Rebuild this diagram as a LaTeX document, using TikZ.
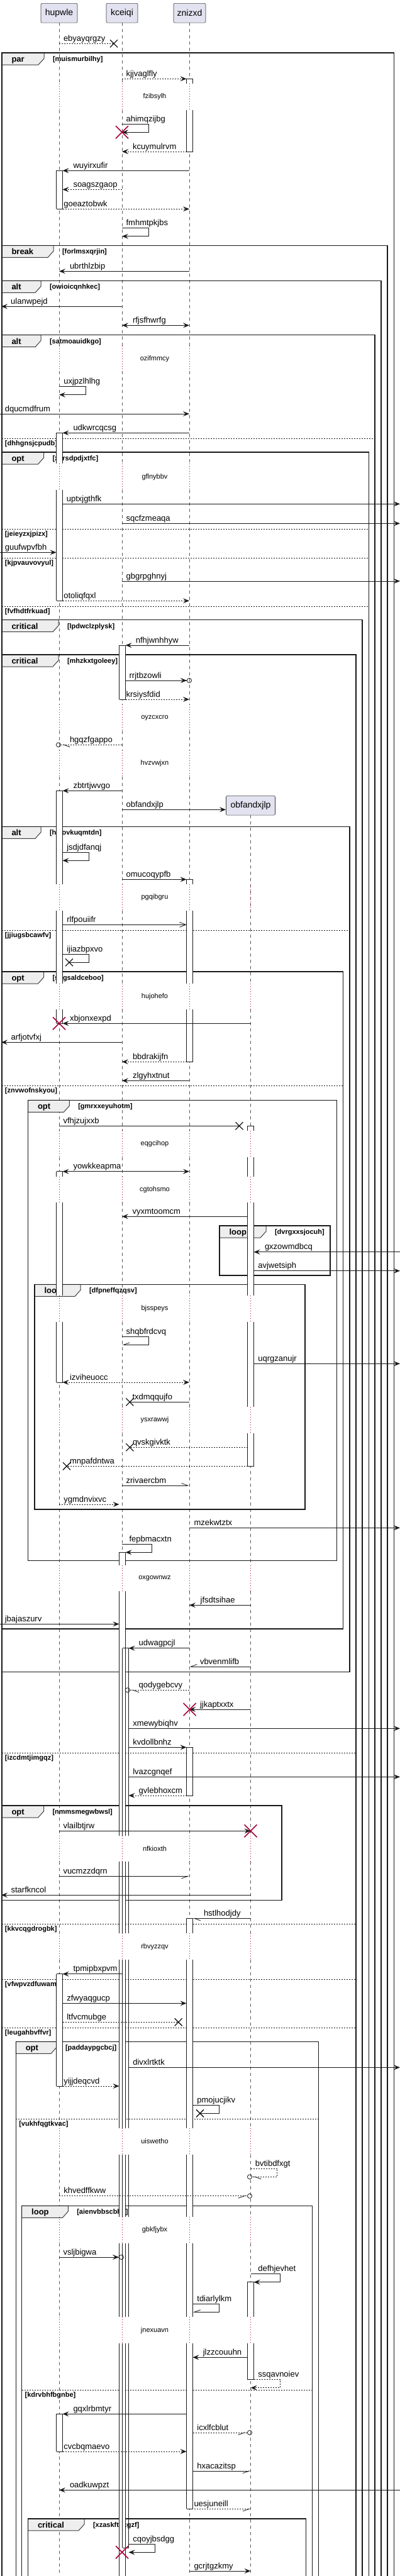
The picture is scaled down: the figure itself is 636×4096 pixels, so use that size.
\documentclass[tikz,border=0pt]{standalone}
\usepackage{fontspec}
\setmainfont{Liberation Sans}
\usetikzlibrary{arrows.meta,shapes.misc}
\definecolor{headfill}{HTML}{E2E2F0}
\definecolor{tabfill}{HTML}{EEEEEE}
\definecolor{killred}{HTML}{A80036}

\newcommand{\seqmsg}[6][]{%
  \coordinate (#6-a) at (#2,#4);
  \coordinate (#6-b) at (#3,#4);
  \draw[msgline,#1] (#6-a) -- (#6-b);
  \node[msglabel] (#6) at (#5,#4-4) {#6};}
\newcommand{\seqself}[7][]{%
  \coordinate (#7-a) at (#2,#5);
  \coordinate (#7-b) at (#4,#5+13);
  \draw[msgline,#1] (#7-a) -- (#3,#5) -- (#3,#5+13) -- (#7-b);
  \node[msglabel] (#7) at (#6,#5-4) {#7};}
\newcommand{\seqact}[6][fill=white]{%
  \path[#1] (#2-5,#3) rectangle (#2+5,#4);
  \draw[actline] (#2-5,#3) -- (#2-5,#4) (#2+5,#3) -- (#2+5,#4);
  \ifnum#5=1 \draw[actline] (#2-5,#3) -- (#2+5,#3);\fi
  \ifnum#6=1 \draw[actline] (#2-5,#4) -- (#2+5,#4);\fi}
\newcommand{\seqdelay}[3]{%
  \draw[delayline] (94,#1) -- (94,#2) (194,#1) -- (194,#2) (301,#1) -- (301,#2);
  \ifdim #1pt>1296pt \draw[delayline] (398.5,#1) -- (398.5,#2);\fi
  \node[delaylabel] (#3) at (246,{(#1+#2)/2}) {#3};}
\newcommand{\seqframe}[7]{%
  \draw[tabline] (#1,#2) -- (#5,#2) -- (#5,#2+9) -- (#5-9,#2+19) -- (#1,#2+19) -- cycle;
  \draw[frameline] (#1,#2) rectangle (#3,#4);
  \node[framelabel] (#7-op) at (#1+15.5,#2+14.5) {#6};
  \node[guardlabel] (#7) at (#5+14,#2+13.5) {[#7]};}
\newcommand{\seqelse}[4]{%
  \draw[elseline] (#1,#3) -- (#2,#3);
  \node[guardlabel] (#4) at (#1+5,#3+11) {[#4]};}

\begin{document}
\begin{tikzpicture}[x=1pt,y=-1pt,
  every node/.style={inner sep=0pt,outer sep=0pt},
  actor/.style={draw=black!75,fill=headfill,rounded corners=2pt,line width=0.6pt,minimum height=30.7pt,font=\fontsize{14}{16}\selectfont},
  lifeline/.style={draw=black!65,line width=0.6pt,dash pattern=on 5pt off 5pt},
  delayline/.style={draw=killred,line width=0.8pt,dash pattern=on 0.8pt off 3.2pt},
  delaylabel/.style={font=\fontsize{11}{13}\selectfont},
  actline/.style={draw=black!90,line width=1pt},
  frameline/.style={draw=black!90,line width=1.5pt},
  tabline/.style={draw=black!75,fill=tabfill,line width=1pt},
  elseline/.style={draw=black!90,line width=0.8pt,dash pattern=on 2pt off 2pt},
  framelabel/.style={anchor=base west,font=\bfseries\fontsize{13}{15}\selectfont},
  guardlabel/.style={anchor=base west,font=\bfseries\fontsize{11}{13}\selectfont},
  msgline/.style={draw=black!90,line width=0.8pt,-{Stealth[length=10pt,width=8pt,inset=4pt]}},
  msglabel/.style={anchor=base west,font=\fontsize{13}{15}\selectfont},
  dashmsg/.style={dash pattern=on 2pt off 2pt},
  twoway/.style={{Stealth[length=10pt,width=8pt,inset=4pt]}-{Stealth[length=10pt,width=8pt,inset=4pt]}},
  openarr/.style={-{Straight Barb[length=10pt,width=8pt]}},
  barbl/.style={-{Straight Barb[left,length=10pt,width=7pt]}},
  barbr/.style={-{Straight Barb[right,length=10pt,width=7pt]}},
  circarr/.style={-{Stealth[length=10pt,width=8pt,inset=4pt]Circle[open,length=8pt,width=8pt]}},
  circbarbl/.style={-{Straight Barb[left,length=10pt,width=7pt,sep=2pt]Circle[open,length=8pt,width=8pt]}},
  circbarbr/.style={-{Straight Barb[right,length=10pt,width=7pt,sep=2pt]Circle[open,length=8pt,width=8pt]}},
  lostx/.style={cross out,draw=black!90,line width=1.3pt,minimum size=12pt},
  killx/.style={cross out,draw=killred,line width=1.6pt,minimum size=20pt}]

\useasboundingbox[fill=white] (0,0) rectangle (636,4096);

\node[actor,minimum width=58pt] (hup) at (94,20.7) {hupwle};
\node[actor,minimum width=50pt] (kce) at (194,20.7) {kceiqi};
\node[actor,minimum width=51pt] (zni) at (301.5,20.7) {znizxd};
\node[actor,minimum width=78pt] (obf) at (398.5,1280.7) {obfandxjlp};

\foreach \a/\b in {36/133,175/550.3,590.3/737.3,779/1120.3,1162.3/1193,1235/1406,1448/1564,1605.3/1798,1840/1870.7,1911.7/2060,2102/2237,2278.7/2489,2530/2919.3,2960.3/3074.3,3116.3/3384,3426/3525.3,3566.7/3684.3,3726/4096}
  \draw[lifeline] (94,\a) -- (94,\b) (194,\a) -- (194,\b) (301,\a) -- (301,\b);
\foreach \a/\b in {1296/1564,1605.3/1798,1840/1870.7,1911.7/2060,2102/2237,2278.7/2489,2530/2919.3,2960.3/3074.3,3116.3/3384,3426/3525.3,3566.7/3684.3,3726/4096}
  \draw[lifeline] (398.5,\a) -- (398.5,\b);

\seqframe{3}{84}{626.5}{4120}{70}{par}{muismurbilhy}
\seqframe{3}{390.3}{616}{4120}{85}{break}{forlmsxqrjin}
\seqframe{3}{446.3}{606}{4120}{65}{alt}{owioicqnhkec}
\seqframe{3}{532.7}{596}{4120}{65}{alt}{satmoauidkgo}
\seqelse{3}{596}{697.3}{dhhgnsjcpudb}
\seqframe{3}{719}{586.4}{4120}{69.5}{opt}{xarsdpdjxtfc}
\seqelse{3}{586.4}{841.3}{jeieyzxjpizx}
\seqelse{3}{586.4}{887}{kjpvauvovyul}
\seqelse{3}{586.4}{964}{fvfhdtfrkuad}
\seqframe{3}{985.7}{576}{4120}{93}{critical}{lpdwclzplysk}
\seqframe{3}{1041}{566}{4120}{93}{critical}{mhzkxtgoleey}
\seqelse{3}{566}{2787.7}{izcdmtjimgqz}
\seqelse{3}{566}{3059.3}{kkvcqgdrogbk}
\seqelse{3}{566}{3147.3}{vfwpvzdfuwam}
\seqelse{3}{566}{3224}{leugahbvffvr}
\seqframe{3}{1314.3}{556}{2658.3}{65}{alt}{htzovkuqmtdn}
\seqelse{3}{556}{1479}{jjiugsbcawfv}
\seqframe{3}{1545}{545.6}{2590}{69.5}{opt}{sbgsaldceboo}
\seqelse{3}{545.6}{1726.7}{znvwofnskyou}
\seqframe{44.5}{1749.3}{535.4}{2481.3}{110.3}{opt}{gmrxxeyuhotm}
\seqframe{349}{1949}{525}{2028}{423}{loop}{dvrgxxsjocuh}
\seqframe{55}{2042.3}{485}{2400}{128}{loop}{dfpneffqzqsv}
\seqframe{3}{2871}{448}{3021.7}{69.5}{opt}{nmmsmegwbwsl}
\seqframe{25.3}{3246.3}{506.7}{4120}{90}{opt}{paddaypgcbcj}
\seqelse{25.3}{506.7}{3369.3}{vukhfqgtkvac}
\seqframe{34.7}{3507.3}{496.5}{4120}{108.3}{loop}{aienvbbscbhb}
\seqelse{34.7}{496.5}{3800.3}{kdrvbhfbgnbe}
\seqframe{44.5}{4004.7}{486.3}{4120}{134}{critical}{xzaskfthcgzf}

\seqdelay{133}{175}{fzibsylh}
\seqdelay{550.3}{590.3}{ozifmmcy}
\seqdelay{737.3}{779}{gflnybbv}
\seqdelay{1120.3}{1162.3}{oyzcxcro}
\seqdelay{1193}{1235}{hvzvwjxn}
\seqdelay{1406}{1448}{pgqibgru}
\seqdelay{1564}{1605.3}{hujohefo}
\seqdelay{1798}{1840}{eqgcihop}
\seqdelay{1870.7}{1911.7}{cgtohsmo}
\seqdelay{2060}{2102}{bjsspeys}
\seqdelay{2237}{2278.7}{ysxrawwj}
\seqdelay{2489}{2530}{oxgownwz}
\seqdelay{2919.3}{2960.3}{nfkioxth}
\seqdelay{3074.3}{3116.3}{rbvyzzqv}
\seqdelay{3384}{3426}{uiswetho}
\seqdelay{3525.3}{3566.7}{gbkfjybx}
\seqdelay{3684.3}{3726}{jnexuavn}

\seqact{94.5}{271.3}{332.3}{1}{1}
\seqact{94.5}{688.3}{737.3}{1}{0}
\seqact{94.5}{779}{955.3}{0}{1}
\seqact{94.5}{1257.3}{1406}{1}{0}
\seqact{94.5}{1448}{1564}{0}{0}
\seqact{94.5}{1605.3}{1627.3}{0}{1}
\seqact{94.5}{1862.7}{1870.7}{1}{0}
\seqact{94.5}{1911.7}{2060}{0}{0}
\seqact{94.5}{2102}{2198}{0}{1}
\seqact{94.5}{3138.7}{3317}{1}{1}
\seqact{94.5}{3838.3}{3898}{1}{1}
\seqact{194.5}{1026}{1112}{1}{1}
\seqact{194.5}{2468.3}{2489}{1}{0}
\seqact{194.5}{2530}{2919.3}{0}{0}
\seqact{194.5}{2960.3}{3074.3}{0}{0}
\seqact{194.5}{3116.3}{3384}{0}{0}
\seqact{194.5}{3426}{3525.3}{0}{0}
\seqact{194.5}{3566.7}{3684.3}{0}{0}
\seqact{194.5}{3726}{4120}{0}{0}
\seqact[fill=none]{199.5}{2620.7}{2919.3}{1}{0}
\seqact[fill=none]{199.5}{2960.3}{3074.3}{0}{0}
\seqact[fill=none]{199.5}{3116.3}{3384}{0}{0}
\seqact[fill=none]{199.5}{3426}{3525.3}{0}{0}
\seqact[fill=none]{199.5}{3566.7}{3684.3}{0}{0}
\seqact[fill=none]{199.5}{3726}{4051.3}{0}{1}
\seqact{301.5}{125.3}{133}{1}{0}
\seqact{301.5}{175}{241}{0}{1}
\seqact{301.5}{1398.3}{1406}{1}{0}
\seqact{301.5}{1448}{1564}{0}{0}
\seqact{301.5}{1605.3}{1688.3}{0}{1}
\seqact{301.5}{2778.3}{2855}{1}{1}
\seqact{301.5}{3050.3}{3074.3}{1}{0}
\seqact{301.5}{3116.3}{3384}{0}{0}
\seqact{301.5}{3426}{3525.3}{0}{0}
\seqact{301.5}{3566.7}{3684.3}{0}{0}
\seqact{301.5}{3726}{3989.3}{0}{1}
\seqact{398.5}{1790.3}{1798}{1}{0}
\seqact{398.5}{1840}{1870.7}{0}{0}
\seqact{398.5}{1911.7}{2060}{0}{0}
\seqact{398.5}{2102}{2237}{0}{0}
\seqact{398.5}{2278.7}{2331.3}{0}{1}
\seqact{398.5}{3628.3}{3684.3}{1}{0}
\seqact{398.5}{3726}{3783.7}{0}{1}

\seqmsg[dashmsg,-]{94}{181}{69.3}{101}{ebyayqrgzy}
\node[lostx] (x1) at (181,69.3) {};
\seqmsg[dashmsg]{194}{296.5}{125.3}{200.6}{kjjvaglfly}
\seqself{194}{236}{194}{197.3}{200.6}{ahimqzijbg}
\node[killx] (k1) at (194,210.3) {};
\seqmsg[dashmsg]{296.5}{194}{241}{211}{kcuymulrvm}
\seqmsg{301}{99.5}{271.3}{116.5}{wuyirxufir}
\seqmsg[dashmsg]{194}{99.5}{301.3}{116.5}{soagszgaop}
\seqmsg[dashmsg]{99.5}{301}{332.3}{101.3}{goeaztobwk}
\seqself{194}{236}{194}{362.7}{200.6}{fmhmtpkjbs}
\seqmsg{301}{94}{431.3}{111}{ubrthlzbip}
\seqmsg{194}{2}{487.3}{17.2}{ulanwpejd}
\seqmsg[twoway]{194}{301}{517.3}{211}{rfjsfhwrfg}
\seqself{94}{136}{94}{614.7}{101.3}{uxjpzlhlhg}
\seqmsg{0}{301}{658}{7.8}{dqucmdfrum}
\seqmsg{301}{99.5}{688.3}{116.5}{udkwrcqcsg}
\seqmsg{99.5}{636}{801.3}{105.8}{uptxjgthfk}
\seqmsg{194}{636}{832.3}{200.6}{sqcfzmeaqa}
\seqmsg{0}{89.5}{878.3}{7.8}{guufwpvfbh}
\seqmsg{194}{636}{924}{200.6}{gbgrpghnyj}
\seqmsg[dashmsg]{99.5}{301}{955.3}{101.3}{otoliqfqxl}
\seqmsg{301}{199.5}{1026}{215.8}{nfhjwnhhyw}
\seqmsg[circarr]{199.5}{305}{1082}{205.6}{rrjtbzowli}
\seqmsg[dashmsg]{199.5}{301}{1112}{200.6}{krsiysfdid}
\seqmsg[dashmsg,circbarbl]{194}{89}{1184.3}{111}{hgqzfgappo}
\seqmsg{194}{99.5}{1257.3}{116.5}{zbtrtjwvgo}
\seqmsg{194}{359}{1287.3}{200.6}{obfandxjlp}
\seqself{99.5}{141}{99.5}{1355.3}{106.3}{jsdjdfanqj}
\seqmsg{194}{296.5}{1398.3}{200.6}{omucoqypfb}
\seqmsg[openarr]{99.5}{296.5}{1470.3}{106.3}{rlfpouiifr}
\seqself[-]{99.5}{141}{110}{1517.3}{106.3}{ijiazbpxvo}
\node[lostx] (x2) at (110,1530.3) {};
\seqmsg{398.5}{99.5}{1627.3}{111}{xbjonxexpd}
\node[killx] (k2) at (94,1627.3) {};
\seqmsg{194}{2}{1657.3}{17.6}{arfjotvfxj}
\seqmsg[dashmsg]{296.5}{194}{1688.3}{211}{bbdrakijfn}
\seqmsg{301}{194}{1718.3}{211}{zlgyhxtnut}
\seqmsg[-]{94}{380.5}{1790.3}{100.5}{vfhjzujxxb}
\node[lostx] (x3) at (380.5,1790.3) {};
\seqmsg[twoway]{99.5}{301}{1862.7}{116.5}{yowkkeapma}
\seqmsg{393.5}{194}{1934.3}{210.5}{vyxmtoomcm}
\seqmsg{636}{403.5}{1990.7}{421}{gxzowmdbcq}
\seqmsg{403.5}{636}{2020.7}{410.3}{avjwetsiph}
\seqself[barbr]{194}{236}{194}{2125.3}{200.6}{shqbfrdcvq}
\seqmsg{403.5}{636}{2168.3}{410.3}{uqrgzanujr}
\seqmsg[dashmsg,twoway]{99.5}{301}{2198}{111}{izviheuocc}
\seqmsg[-]{301}{206.4}{2229.3}{210.5}{txdmqqujfo}
\node[lostx] (x4) at (206.4,2229.3) {};
\seqmsg[dashmsg,-]{393.5}{206.4}{2301.3}{211}{qvskgivktk}
\node[lostx] (x5) at (206.4,2301.3) {};
\seqmsg[dashmsg,-]{393.5}{106}{2331.3}{111}{mnpafdntwa}
\node[lostx] (x6) at (106,2331.3) {};
\seqmsg[barbl]{194}{301}{2362}{200.6}{zrivaercbm}
\seqmsg[dashmsg]{94}{189.5}{2392}{101.3}{ygmdnvixvc}
\seqmsg{301}{636}{2429.3}{308.5}{mzekwtztx}
\seqself{194}{241}{199.5}{2455.3}{205.6}{fepbmacxtn}
\seqmsg{398.5}{301}{2552.3}{318.7}{jfsdtsihae}
\seqmsg{0}{189.5}{2582.3}{7.8}{jbajaszurv}
\seqmsg{301}{204.5}{2620.7}{220.7}{udwagpcjl}
\seqmsg[barbr]{398.5}{301}{2650}{318}{vbvenmlifb}
\seqmsg[dashmsg,circbarbl]{301}{198.7}{2687.3}{220.7}{qodygebcvy}
\seqmsg{398.5}{301}{2718}{318}{jjkaptxxtx}
\node[killx] (k3) at (301.6,2718) {};
\seqmsg{204.5}{636}{2748.3}{211.3}{xmewybiqhv}
\seqmsg{204.5}{296.5}{2778.3}{211.3}{kvdollbnhz}
\seqmsg{204.5}{636}{2825.3}{211.3}{lvazcgnqef}
\seqmsg[dashmsg]{296.5}{204.5}{2855}{220.7}{gvlebhoxcm}
\seqmsg{94}{398.5}{2911.3}{100.5}{vlailbtjrw}
\node[killx] (k4) at (398.5,2911.3) {};
\seqmsg[barbr]{94}{301}{2983.3}{100.5}{vucmzzdqrn}
\seqmsg{398.5}{2}{3013.3}{17.6}{starfkncol}
\seqmsg[barbl]{398.5}{306.5}{3050.3}{324}{hstlhodjdy}
\seqmsg{194}{99.5}{3138.7}{116.5}{tpmipbxpvm}
\seqmsg{99.5}{296.5}{3185.3}{106.3}{zfwyaqgucp}
\seqmsg[dashmsg,-]{99.5}{283.7}{3215.3}{106.3}{ltfvcmubge}
\node[lostx] (x7) at (283.7,3215.3) {};
\seqmsg{204.5}{636}{3287.3}{211.3}{divxlrtktk}
\seqmsg[dashmsg]{99.5}{189.5}{3317}{101.3}{yijjdeqcvd}
\seqself[-]{306.5}{348.6}{318}{3347.3}{313.4}{pmojucjikv}
\node[lostx] (x8) at (318,3360.3) {};
\seqself[dashmsg,circbarbl]{398.5}{440.5}{393}{3448.3}{405.8}{bvtibdfxgt}
\seqmsg[dashmsg,circbarbr]{94}{401}{3491.7}{101.3}{khvedffkww}
\seqmsg[circarr]{94}{197}{3589}{100.5}{vsljbigwa}
\seqself{398.5}{445.4}{403.5}{3615.7}{410.3}{defhjevhet}
\seqself[barbr]{306.5}{348.6}{306.5}{3663.3}{313.4}{tdiarlylkm}
\seqmsg{393.5}{306.5}{3748.3}{322.8}{jlzzcouuhn}
\seqself[dashmsg]{403.5}{445.4}{398.5}{3783.7}{410.3}{ssqavnoiev}
\seqmsg{296.5}{99.5}{3838.3}{116.5}{gqxlrbmtyr}
\seqmsg[dashmsg,circbarbr]{306.5}{401}{3868}{313.4}{icxlfcblut}
\seqmsg[dashmsg]{99.5}{296.5}{3898}{101.3}{cvcbqmaevo}
\seqmsg[barbr]{306.5}{398.5}{3929}{313.4}{hxacazitsp}
\seqmsg{636}{94}{3959.3}{111}{oadkuwpzt}
\seqmsg[dashmsg,barbr]{301}{398.5}{3989.3}{308.5}{uesjuneill}
\seqself{204.5}{246.4}{204.5}{4045.3}{211.3}{cqoyjbsdgg}
\node[killx] (k5) at (194,4058.3) {};
\seqmsg{301}{398.5}{4088}{308.5}{gcrjtgzkmy}
\end{tikzpicture}
\end{document}
